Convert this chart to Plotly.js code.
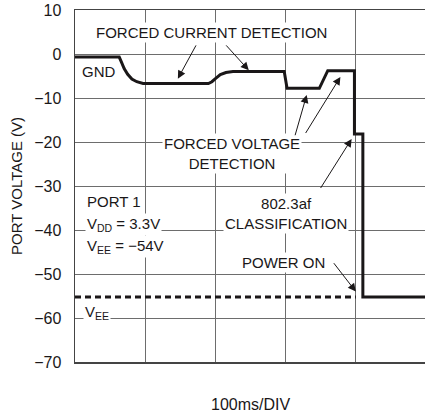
<!DOCTYPE html>
<html>
<head>
<meta charset="utf-8">
<script src="https://cdn.plot.ly/plotly-3.0.1.min.js"></script>
<style>html,body{margin:0;padding:0;background:#fff;}#chart{width:425px;height:416px;}</style>
</head>
<body>
<div id="chart"></div>
<script>
// time in divisions (100ms/DIV), voltage in V
const timeDiv = [0, 0.63, 0.66, 0.70, 0.75, 0.81, 0.88, 0.97, 1.90, 1.95, 2.00, 2.07, 2.15, 2.25, 2.98, 3.02, 3.48, 3.60, 3.98, 3.98, 4.10, 4.10, 5.0];
const portVoltage = [-0.7, -0.7, -1.8, -3.3, -4.6, -5.7, -6.3, -6.7, -6.7, -6.3, -5.6, -4.7, -4.2, -4.0, -4.0, -7.8, -7.8, -3.8, -3.8, -18.2, -18.2, -55.2, -55.2];
const veeTime = [0, 4.0];
const veeLevel = [-55.2, -55.2];
const yTicks = [10, 0, -10, -20, -30, -40, -50, -60, -70];
const xTicks = [0, 1, 2, 3, 4, 5];

const FONT = '"Liberation Sans", Arial, sans-serif';
const INK = '#1a1718';

const traces = [
  {x: veeTime, y: veeLevel, mode: 'lines', line: {color: INK, width: 3, dash: '6px,4px'}, hoverinfo: 'skip'},
  {x: timeDiv, y: portVoltage, mode: 'lines', line: {color: INK, width: 3, shape: 'linear'}, hoverinfo: 'skip'}
];

function label(text, x, y, opts) {
  return Object.assign({text: text, x: x, y: y, xref: 'x', yref: 'y', showarrow: false,
    bgcolor: '#ffffff', borderpad: 1, font: {family: FONT, size: 15, color: INK}}, opts || {});
}
function arrow(tx, ty, hx, hy) {
  return {text: '', x: hx, y: hy, ax: tx, ay: ty, xref: 'x', yref: 'y', axref: 'x', ayref: 'y',
    showarrow: true, arrowhead: 2, arrowsize: 1.6, arrowwidth: 1, arrowcolor: INK, standoff: 0};
}

const annotations = [
  label('FORCED CURRENT DETECTION', 1.95, 4.85),
  label('GND', 0.07, -4.0, {xanchor: 'left', bgcolor: 'rgba(0,0,0,0)'}),
  label('FORCED VOLTAGE<br>DETECTION', 2.23, -22.5),
  label('PORT 1', 0.14, -33.6, {xanchor: 'left'}),
  label('V<sub>DD</sub> = 3.3V', 0.14, -38.8, {xanchor: 'left'}),
  label('V<sub>EE</sub> = \u221254V', 0.14, -43.8, {xanchor: 'left'}),
  label('802.3af<br>CLASSIFICATION', 3.0, -36.2),
  label('POWER ON', 2.97, -47.4),
  label('V<sub>EE</sub>', 0.11, -58.8, {xanchor: 'left'}),
  arrow(1.735, 2.3, 1.465, -5.6),
  arrow(2.134, 2.3, 2.475, -3.7),
  arrow(3.129, -18.8, 3.30, -9.3),
  arrow(3.272, -18.3, 3.78, -5.2),
  arrow(3.485, -30.8, 3.94, -19.3),
  arrow(3.670, -47.2, 4.00, -54.0),
  {text: '100ms/DIV', xref: 'paper', yref: 'paper', x: 0.5, y: -0.122, yanchor: 'middle',
   showarrow: false, font: {family: FONT, size: 16, color: INK}}
];

const layout = {
  width: 425, height: 416,
  margin: {l: 75, r: 0, t: 10, b: 54},
  paper_bgcolor: '#ffffff', plot_bgcolor: '#ffffff',
  showlegend: false,
  font: {family: FONT, size: 16, color: INK},
  annotations: annotations,
  xaxis: {range: [0, 4.985], tickvals: xTicks, showticklabels: false, ticks: '',
    showgrid: true, gridcolor: '#6d6d6d', gridwidth: 1, zeroline: false,
    showline: true, linecolor: '#444', linewidth: 1.5, mirror: true},
  yaxis: {range: [-70, 10], tickvals: yTicks, ticktext: yTicks.map(v => String(v).replace('-', '\u2212')),
    showgrid: true, gridcolor: '#6d6d6d', gridwidth: 1, zeroline: false,
    showline: true, linecolor: '#444', linewidth: 1.5, ticks: '', ticklabelstandoff: 9,
    tickfont: {family: FONT, size: 16, color: INK},
    title: {text: 'PORT VOLTAGE (V)', font: {family: FONT, size: 15, color: INK}, standoff: 8}}
};

Plotly.newPlot('chart', traces, layout, {staticPlot: true, displayModeBar: false});
</script>
</body>
</html>
